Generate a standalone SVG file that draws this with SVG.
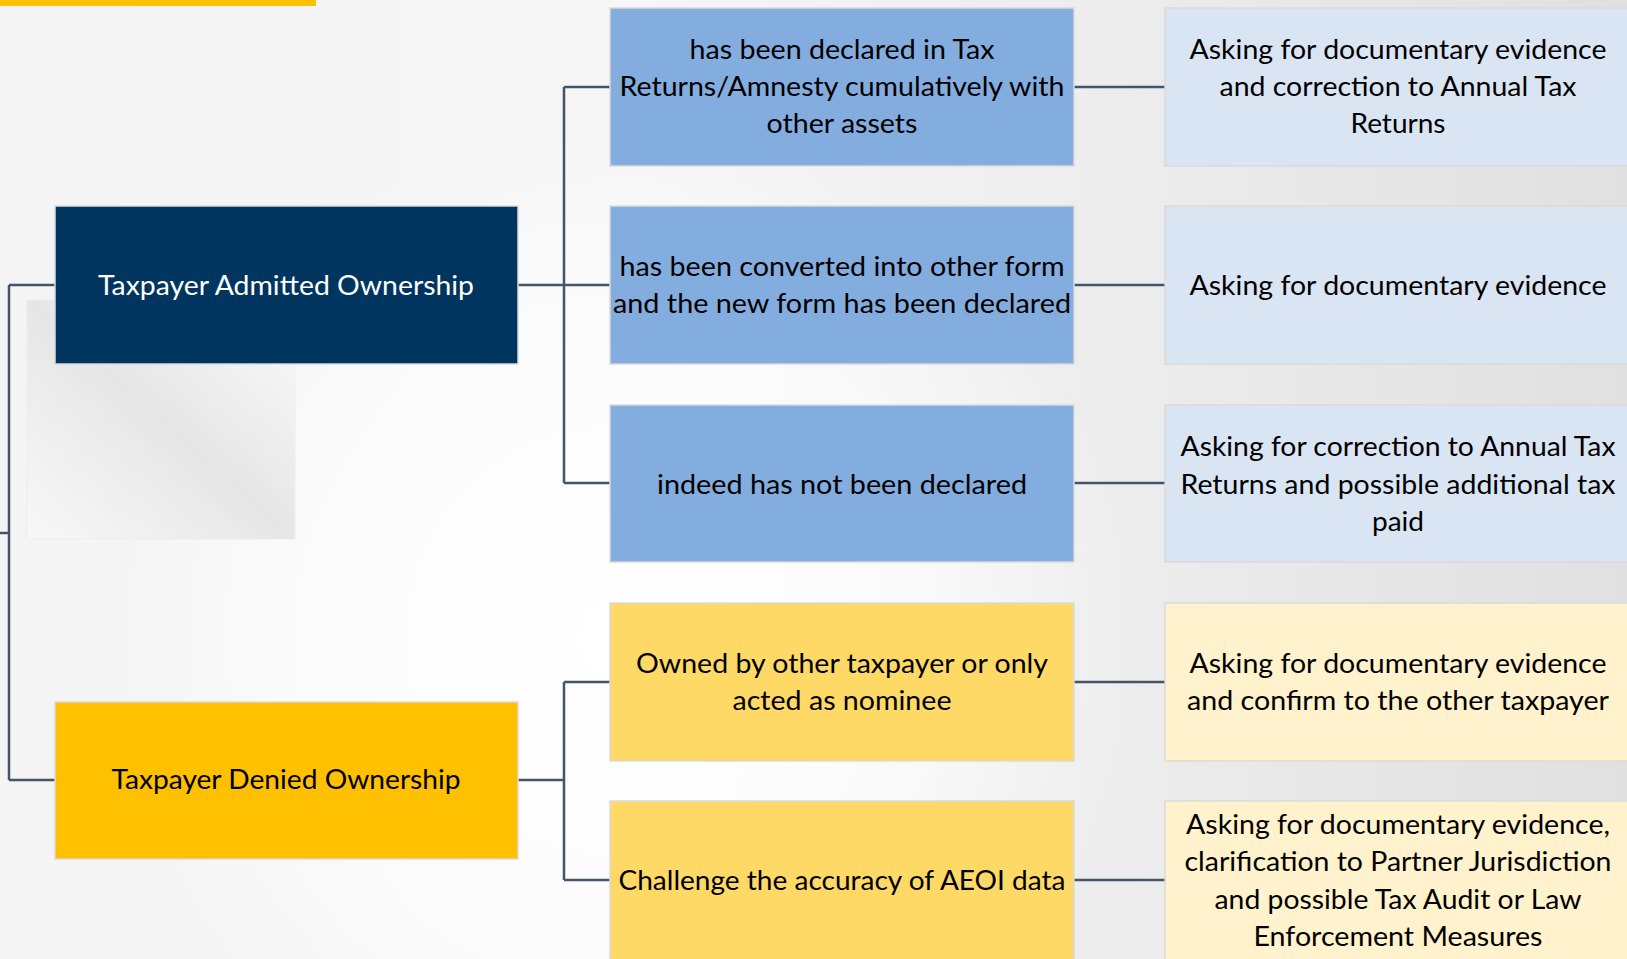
<svg xmlns="http://www.w3.org/2000/svg" width="1627" height="959" viewBox="0 0 1627 959">
<defs>
<linearGradient id="bgLin" x1="0" y1="0" x2="1627" y2="0" gradientUnits="userSpaceOnUse">
<stop offset="0" stop-color="#F4F4F4"/>
<stop offset="0.4" stop-color="#F6F6F6"/>
<stop offset="0.7" stop-color="#ECECEC"/>
<stop offset="1" stop-color="#E0E0E0"/>
</linearGradient>
<radialGradient id="bgRad" cx="620" cy="640" r="520" gradientUnits="userSpaceOnUse">
<stop offset="0" stop-color="#FFFFFF" stop-opacity="1"/>
<stop offset="0.6" stop-color="#FFFFFF" stop-opacity="0.6"/>
<stop offset="1" stop-color="#FFFFFF" stop-opacity="0"/>
</radialGradient>
<linearGradient id="shadowGrad" x1="0" y1="1" x2="1" y2="0">
<stop offset="0" stop-color="#F8F8F8"/>
<stop offset="0.5" stop-color="#E6E6E6"/>
<stop offset="1" stop-color="#FBFBFB"/>
</linearGradient>
<style>
.conn{fill:none;stroke:#44546A;stroke-width:2.5}
.box{stroke:#DADADA;stroke-width:1.5}
.navy{fill:#00355F}
.gold{fill:#FFC000}
.blue{fill:#84ADDF}
.lblue{fill:#DAE5F4}
.yel{fill:#FFD966}
.lyel{fill:#FFF2CC}
text{font-family:Lato,"Liberation Sans",sans-serif;font-size:27px;text-anchor:middle;fill:#000}
.w{fill:#FFFFFF}
</style>
</defs>
<rect x="0" y="0" width="1627" height="959" fill="url(#bgLin)"/>
<rect x="0" y="0" width="1627" height="959" fill="url(#bgRad)"/>
<rect x="0" y="0" width="316" height="6" fill="#FFC000"/>
<rect x="27" y="300" width="268" height="239" fill="url(#shadowGrad)" stroke="#EEEEEE" stroke-width="1"/>

<g id="connectors">
<path class="conn" d="M0 533 H9 M9 285 V780 M9 285 H55 M9 780 H55"/>
<path class="conn" d="M518 285 H564 M564 87 V483 M564 87 H610 M564 285 H610 M564 483 H610"/>
<path class="conn" d="M518 780 H564 M564 682 V880 M564 682 H610 M564 880 H610"/>
<path class="conn" d="M1074 87 H1165 M1074 285 H1165 M1074 483 H1165 M1074 682 H1165 M1074 880 H1165"/>
</g>

<g id="admitted">
<rect class="box navy" x="55" y="206" width="463" height="158"/>
<text class="w" x="286" y="295" textLength="376" lengthAdjust="spacingAndGlyphs">Taxpayer Admitted Ownership</text>
</g>
<g id="denied">
<rect class="box gold" x="55" y="702" width="463" height="157"/>
<text x="286" y="789" textLength="349" lengthAdjust="spacingAndGlyphs">Taxpayer Denied Ownership</text>
</g>

<g id="m1">
<rect class="box blue" x="610" y="8" width="464" height="158"/>
<text x="842" y="59" textLength="305" lengthAdjust="spacingAndGlyphs">has been declared in Tax</text>
<text x="842" y="96" textLength="445" lengthAdjust="spacingAndGlyphs">Returns/Amnesty cumulatively with</text>
<text x="842" y="133" textLength="151" lengthAdjust="spacingAndGlyphs">other assets</text>
</g>
<g id="m2">
<rect class="box blue" x="610" y="206" width="464" height="158"/>
<text x="842" y="276" textLength="445" lengthAdjust="spacingAndGlyphs">has been converted into other form</text>
<text x="842" y="313" textLength="458" lengthAdjust="spacingAndGlyphs">and the new form has been declared</text>
</g>
<g id="m3">
<rect class="box blue" x="610" y="405" width="464" height="157"/>
<text x="842" y="494" textLength="370" lengthAdjust="spacingAndGlyphs">indeed has not been declared</text>
</g>
<g id="m4">
<rect class="box yel" x="610" y="603" width="464" height="158"/>
<text x="842" y="673" textLength="412" lengthAdjust="spacingAndGlyphs">Owned by other taxpayer or only</text>
<text x="842" y="710" textLength="219" lengthAdjust="spacingAndGlyphs">acted as nominee</text>
</g>
<g id="m5">
<rect class="box yel" x="610" y="801" width="464" height="170"/>
<text x="842" y="890" textLength="447" lengthAdjust="spacingAndGlyphs">Challenge the accuracy of AEOI data</text>
</g>

<g id="r1">
<rect class="box lblue" x="1165" y="8" width="475" height="158"/>
<text x="1398" y="59" textLength="417" lengthAdjust="spacingAndGlyphs">Asking for documentary evidence</text>
<text x="1398" y="96" textLength="357" lengthAdjust="spacingAndGlyphs">and correction to Annual Tax</text>
<text x="1398" y="133" textLength="95" lengthAdjust="spacingAndGlyphs">Returns</text>
</g>
<g id="r2">
<rect class="box lblue" x="1165" y="206" width="475" height="158"/>
<text x="1398" y="295" textLength="417" lengthAdjust="spacingAndGlyphs">Asking for documentary evidence</text>
</g>
<g id="r3">
<rect class="box lblue" x="1165" y="405" width="475" height="157"/>
<text x="1398" y="456" textLength="435" lengthAdjust="spacingAndGlyphs">Asking for correction to Annual Tax</text>
<text x="1398" y="494" textLength="435" lengthAdjust="spacingAndGlyphs">Returns and possible additional tax</text>
<text x="1398" y="531" textLength="52" lengthAdjust="spacingAndGlyphs">paid</text>
</g>
<g id="r4">
<rect class="box lyel" x="1165" y="603" width="475" height="158"/>
<text x="1398" y="673" textLength="417" lengthAdjust="spacingAndGlyphs">Asking for documentary evidence</text>
<text x="1398" y="710" textLength="422" lengthAdjust="spacingAndGlyphs">and confirm to the other taxpayer</text>
</g>
<g id="r5">
<rect class="box lyel" x="1165" y="801" width="475" height="170"/>
<text x="1398" y="834" textLength="424" lengthAdjust="spacingAndGlyphs">Asking for documentary evidence,</text>
<text x="1398" y="871" textLength="427" lengthAdjust="spacingAndGlyphs">clarification to Partner Jurisdiction</text>
<text x="1398" y="909" textLength="367" lengthAdjust="spacingAndGlyphs">and possible Tax Audit or Law</text>
<text x="1398" y="946" textLength="289" lengthAdjust="spacingAndGlyphs">Enforcement Measures</text>
</g>
</svg>
